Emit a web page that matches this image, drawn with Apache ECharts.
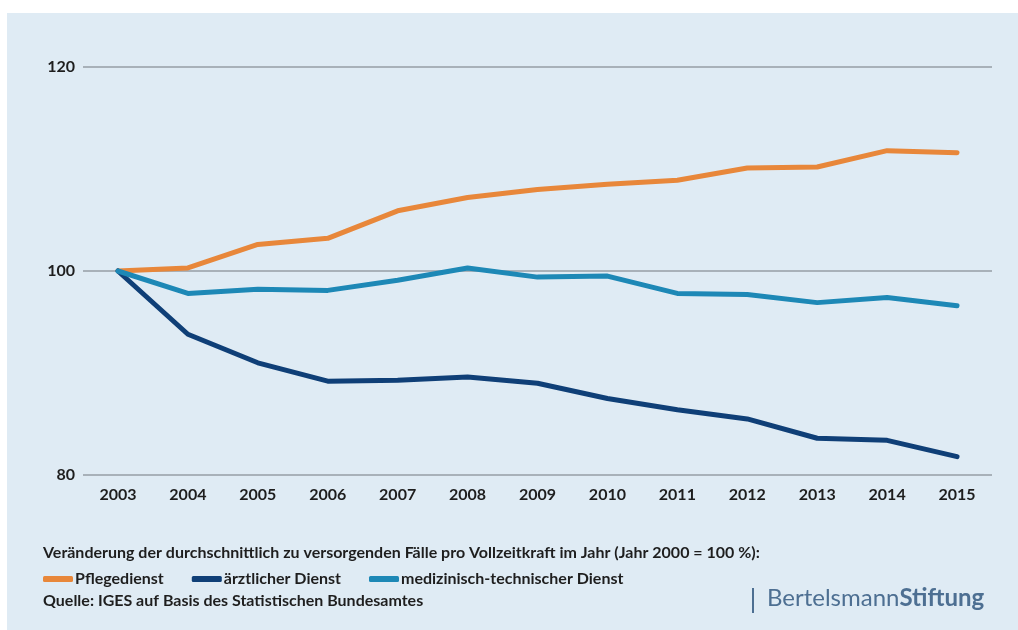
<!DOCTYPE html>
<html>
<head>
<meta charset="utf-8">
<script src="https://cdn.jsdelivr.net/npm/echarts@6/dist/echarts.min.js"></script>
<style>
  html, body { margin: 0; padding: 0; background: #ffffff; }
  #panel { position: absolute; left: 7px; top: 13px; width: 1011px; height: 617px; background: #dfebf4; }
  #chart { position: absolute; left: 0; top: 0; width: 1018px; height: 630px; }
</style>
</head>
<body>
<div id="panel"></div>
<div id="chart"></div>
<script>
// Jahre auf der x-Achse
const years = ['2003', '2004', '2005', '2006', '2007', '2008', '2009', '2010', '2011', '2012', '2013', '2014', '2015'];

// Fälle pro Vollzeitkraft, Index (Jahr 2000 = 100 %)
const pflegedienst = [100, 100.3, 102.6, 103.2, 105.9, 107.2, 108.0, 108.5, 108.9, 110.1, 110.2, 111.8, 111.6];
const aerztlicherDienst = [100, 93.8, 91.0, 89.2, 89.3, 89.6, 89.0, 87.5, 86.4, 85.5, 83.6, 83.4, 81.8];
const medTechDienst = [100, 97.8, 98.2, 98.1, 99.1, 100.3, 99.4, 99.5, 97.8, 97.7, 96.9, 97.4, 96.6];

// Beschriftungen der y-Achse
const yTicks = [80, 100, 120];

const seriesNames = ['Pflegedienst', 'ärztlicher Dienst', 'medizinisch-technischer Dienst'];
const seriesColors = ['#e8873a', '#0f3f77', '#1d88b6'];

const caption = 'Veränderung der durchschnittlich zu versorgenden Fälle pro Vollzeitkraft im Jahr (Jahr 2000 = 100 %):';
const sourceNote = 'Quelle: IGES auf Basis des Statistischen Bundesamtes';

const FONT = 'Lato, "Open Sans", sans-serif';
const TEXT_COLOR = '#1e1e1e';

const chart = echarts.init(document.getElementById('chart'), null, { renderer: 'canvas' });

function lineSeries(name, data, color) {
  return {
    name: name,
    type: 'line',
    data: data,
    symbol: 'none',
    smooth: false,
    lineStyle: { width: 5, color: color, cap: 'round', join: 'round' },
    itemStyle: { color: color },
    z: 3
  };
}

chart.setOption({
  backgroundColor: 'transparent',
  animation: false,
  grid: { left: 83, right: 26, top: 67, bottom: 155, containLabel: false },
  xAxis: {
    type: 'category',
    data: years,
    boundaryGap: true,
    axisLine: { show: false },
    axisTick: { show: false },
    axisLabel: {
      margin: 12,
      fontFamily: FONT,
      fontWeight: 'bold',
      fontSize: 16,
      color: TEXT_COLOR
    }
  },
  yAxis: {
    type: 'value',
    min: yTicks[0],
    max: yTicks[yTicks.length - 1],
    interval: yTicks[1] - yTicks[0],
    axisLine: { show: false },
    axisTick: { show: false },
    splitLine: { lineStyle: { color: '#a8b1b9', width: 2 } },
    axisLabel: {
      margin: 8,
      fontFamily: FONT,
      fontWeight: 'bold',
      fontSize: 16,
      color: TEXT_COLOR
    }
  },
  legend: {
    left: 43,
    top: 571,
    itemWidth: 30,
    itemHeight: 6,
    itemGap: 28,
    icon: 'roundRect',
    padding: 0,
    textStyle: {
      fontFamily: FONT,
      fontWeight: 'bold',
      fontSize: 16,
      color: TEXT_COLOR,
      padding: [0, 0, 0, -3]
    },
    data: seriesNames
  },
  series: [
    lineSeries(seriesNames[0], pflegedienst, seriesColors[0]),
    lineSeries(seriesNames[1], aerztlicherDienst, seriesColors[1]),
    lineSeries(seriesNames[2], medTechDienst, seriesColors[2])
  ],
  graphic: [
    {
      type: 'text',
      left: 43,
      top: 545,
      style: {
        text: caption,
        font: 'bold 16px ' + FONT,
        fill: TEXT_COLOR
      }
    },
    {
      type: 'text',
      left: 43,
      top: 593,
      style: {
        text: sourceNote,
        font: 'bold 16px ' + FONT,
        fill: TEXT_COLOR
      }
    },
    {
      type: 'rect',
      left: 752,
      top: 588,
      shape: { width: 2, height: 25 },
      style: { fill: '#4d6f92' }
    },
    {
      type: 'text',
      left: 767,
      top: 586,
      style: {
        rich: {
          a: { font: '24px ' + FONT, fill: '#4d6f92' },
          b: { font: 'bold 24px ' + FONT, fill: '#4d6f92' }
        },
        text: '{a|Bertelsmann}{b|Stiftung}'
      }
    }
  ]
});
</script>
</body>
</html>
